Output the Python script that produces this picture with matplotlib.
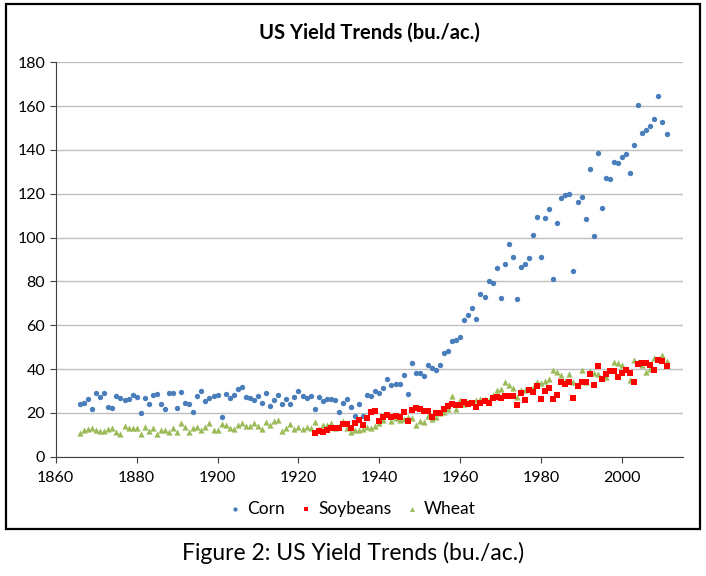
import matplotlib
matplotlib.use("Agg")
import matplotlib.pyplot as plt
from matplotlib.patches import Rectangle

plt.rcParams['font.family'] = ['Lato', 'DejaVu Sans']

corn_years = list(range(1866, 2012))
corn = [24.3, 24.7, 26.2, 21.8, 29.3, 27.4, 29.2, 22.9, 22.3, 27.7,
        26.6, 26.0, 26.3, 28.2, 27.4, 19.9, 26.6, 24.2, 28.2, 28.5,
        24.1, 21.9, 29.0, 29.3, 22.1, 29.6, 24.6, 23.9, 20.3, 27.9,
        29.9, 25.5, 26.6, 27.8, 28.1, 18.2, 28.5, 26.9, 28.3, 30.9,
        31.7, 27.3, 26.8, 26.1, 27.9, 24.4, 29.2, 23.1, 25.8, 28.2,
        24.0, 26.4, 24.0, 27.1, 29.9, 27.7, 26.9, 27.9, 22.0, 27.3,
        25.5, 26.3, 26.2, 25.7, 20.5, 24.5, 26.5, 22.6, 18.7, 24.2,
        18.6, 28.4, 27.7, 29.9, 28.9, 31.2, 35.4, 32.6, 33.0, 33.1,
        37.2, 28.6, 43.0, 38.2, 38.2, 36.9, 41.8, 40.7, 39.4, 42.0,
        47.4, 48.3, 52.8, 53.1, 54.7, 62.4, 64.7, 67.9, 62.9, 74.1,
        73.1, 80.1, 79.5, 85.9, 72.4, 88.1, 97.0, 91.3, 71.9, 86.4,
        88.0, 90.8, 101.0, 109.5, 91.0, 108.9, 113.2, 81.1, 106.7, 118.0,
        119.4, 119.8, 84.6, 116.3, 118.5, 108.6, 131.5, 100.7, 138.6, 113.5,
        127.1, 126.7, 134.4, 133.8, 136.9, 138.2, 129.3, 142.2, 160.3, 147.9,
        149.1, 150.7, 153.9, 164.7, 152.8, 147.2]

soy_years = list(range(1924, 2012))
soybeans = [11.0, 11.7, 11.2, 12.0, 12.9, 13.3, 13.0, 15.0, 14.9, 13.0,
            15.3, 16.8, 14.4, 17.9, 20.4, 21.0, 16.2, 18.2, 19.0, 18.3,
            18.8, 18.0, 20.5, 16.3, 21.3, 22.3, 21.7, 20.8, 20.7, 18.2,
            20.0, 20.1, 21.8, 23.2, 24.2, 23.5, 23.5, 25.1, 24.2, 24.4,
            22.8, 24.5, 25.4, 24.5, 26.7, 27.4, 26.7, 27.5, 27.8, 27.8,
            23.7, 28.9, 26.1, 30.6, 29.4, 32.1, 26.5, 30.1, 31.5, 26.2,
            28.1, 34.1, 33.3, 33.9, 27.0, 32.3, 34.1, 34.2, 37.6, 32.6,
            41.4, 35.3, 37.6, 38.9, 38.9, 36.6, 38.1, 39.6, 38.0, 33.9,
            42.2, 43.0, 42.9, 41.7, 39.7, 44.0, 43.5, 41.5]

wheat_years = list(range(1866, 2012))
wheat = [11.0, 12.3, 12.7, 13.3, 12.0, 11.9, 11.9, 12.5, 12.9, 11.1,
         10.5, 13.9, 13.1, 13.1, 13.0, 10.2, 13.6, 11.6, 13.0, 10.4,
         12.4, 12.1, 11.1, 12.9, 11.1, 15.3, 13.4, 11.4, 13.2, 13.7,
         12.4, 13.4, 15.3, 12.3, 12.3, 15.0, 14.5, 12.9, 12.5, 14.5,
         15.5, 14.0, 14.0, 15.4, 13.9, 12.5, 15.9, 14.4, 16.1, 16.7,
         11.9, 13.2, 15.0, 12.8, 13.5, 12.7, 13.8, 13.3, 16.0, 12.8,
         14.7, 14.7, 15.4, 13.0, 14.2, 16.3, 13.1, 11.2, 12.1, 12.2,
         12.8, 13.6, 13.3, 14.1, 15.3, 16.8, 19.5, 16.4, 17.7, 17.0,
         17.2, 18.2, 17.9, 14.5, 16.5, 16.0, 18.4, 17.3, 18.1, 19.8,
         20.2, 21.8, 27.5, 21.6, 26.1, 23.9, 25.0, 25.2, 25.8, 26.5,
         26.3, 25.8, 28.4, 30.6, 31.0, 33.9, 32.7, 31.6, 27.3, 30.6,
         30.3, 30.7, 31.4, 34.2, 33.5, 34.5, 35.5, 39.4, 38.8, 37.5,
         34.4, 37.7, 34.1, 32.7, 39.5, 34.3, 39.3, 38.2, 37.6, 35.8,
         36.3, 39.5, 43.2, 42.7, 42.0, 40.2, 35.0, 44.2, 43.2, 42.0,
         38.6, 40.2, 44.9, 44.5, 46.3, 43.7]

fig = plt.figure(figsize=(7.06, 5.76), dpi=100)
ax = fig.add_axes([0.079, 0.207, 0.888, 0.685])

ax.scatter(corn_years, corn, s=15, marker='o', color='#4A7EBB', label='Corn', zorder=3, linewidths=0)
ax.scatter(soy_years, soybeans, s=18, marker='s', color='#FF0000', label='Soybeans', zorder=4, linewidths=0)
ax.scatter(wheat_years, wheat, s=20, marker='^', color='#9BBB59', label='Wheat', zorder=3, linewidths=0)

ax.set_xlim(1860, 2015)
ax.set_ylim(0, 180)
ax.set_xticks(range(1860, 2001, 20))
ax.set_yticks(range(0, 181, 20))
ax.yaxis.grid(True, color='#BFBFBF', linewidth=1)
ax.set_axisbelow(True)
for s in ['top', 'right']:
    ax.spines[s].set_visible(False)
ax.spines['left'].set_color('#404040')
ax.spines['bottom'].set_color('#404040')
ax.tick_params(axis='both', labelsize=11.5, colors='black', length=4, color='#404040')
ax.tick_params(axis='x', pad=6)

ax.set_title('US Yield Trends (bu./ac.)', fontsize=14.5, fontweight='bold', pad=17)

leg = fig.legend(loc='center', bbox_to_anchor=(0.5, 0.117), ncol=3, frameon=False,
                 fontsize=12.5, handlelength=0.6, handletextpad=0.4, columnspacing=0.9,
                 markerscale=0.8)

fig.patches.append(Rectangle((0.008, 0.081), 0.984, 0.912, transform=fig.transFigure,
                             fill=False, edgecolor='black', linewidth=1.6))

fig.text(0.5, 0.04, 'Figure 2: US Yield Trends (bu./ac.)', ha='center', va='center', fontsize=16.5)

fig.savefig('out.png', dpi=100)
